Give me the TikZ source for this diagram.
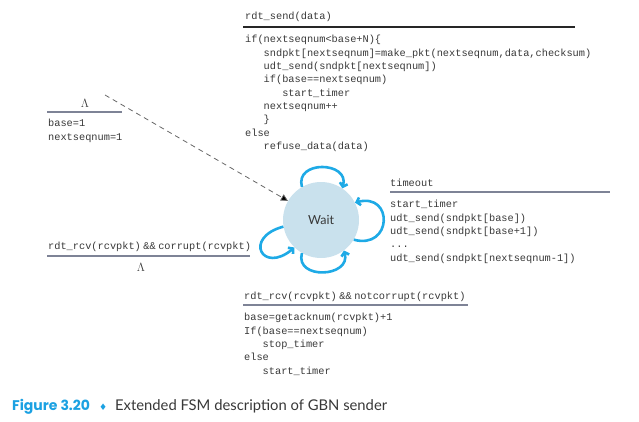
\documentclass[tikz,border=0pt]{standalone}
\usepackage{fontspec}
\setmainfont{Lato}
\setmonofont{Liberation Mono}
\newfontfamily\symfont{DejaVu Sans}
\newfontfamily\capfont{Poppins}
\usetikzlibrary{arrows.meta}
\definecolor{loopblue}{HTML}{1EAAE6}
\definecolor{statefill}{HTML}{C9E1ED}
\definecolor{rulegray}{HTML}{7E8396}
\definecolor{capblue}{HTML}{1BA1E2}
\definecolor{textgray}{HTML}{383838}
\newcommand{\ind}{\phantom{xxx}}
\newcommand{\andand}{\hspace{2.5pt}\&\&\hspace{2.5pt}}
\tikzset{
  code/.style={font=\ttfamily\fontsize{10.3}{13.35}\selectfont, text=textgray,
    inner sep=0pt, align=left, anchor=north west},
  guard/.style={draw=rulegray, line width=1.4pt},
  state/.style={circle, fill=statefill, minimum size=76pt, inner sep=0pt,
    font=\fontsize{12.5}{14}\selectfont, text=textgray},
  selfloop/.style={draw=loopblue, line width=2.6pt,
    -{Straight Barb[length=3.5pt,width=8pt]}},
  initarrow/.style={draw=black!60, line width=0.8pt, dash pattern=on 5pt off 4pt,
    -{Triangle[length=7pt,width=7pt,fill=black]}},
}
\begin{document}
\begin{tikzpicture}[x=1pt,y=-1pt]
  \useasboundingbox (0,0) rectangle (639,422);
  \def\LambdaSym{\fontsize{11.5}{12}\selectfont$\Lambda$}

  \node[state] (wait) at (321,220) {Wait};

  % send event
  \node[code] (sendlbl) at (245,12) {rdt\_send(data)};
  \coordinate (sendL) at (243,27);
  \coordinate (sendR) at (575,27);
  \draw[guard, draw=black!85] (sendL) -- (sendR);
  \node[code] (sendact) at (245,35) {if(nextseqnum<base+N)\{\\
    \ind sndpkt[nextseqnum]=make\_pkt(nextseqnum,data,checksum)\\
    \ind udt\_send(sndpkt[nextseqnum])\\
    \ind if(base==nextseqnum)\\
    \ind\ind start\_timer\\
    \ind nextseqnum++\\
    \ind \}\\
    else\\
    \ind refuse\_data(data)};

  % initial transition
  \node[inner sep=0pt, text=textgray] (initlbl) at (85,103) {\LambdaSym};
  \coordinate (initL) at (47,112);
  \coordinate (initR) at (122,112);
  \draw[guard] (initL) -- (initR);
  \node[code] (initact) at (48,119) {base=1\\nextseqnum=1};
  \coordinate (initstart) at (105,95);
  \draw[initarrow] (initstart) -- (wait);

  % corrupt ack
  \node[code] (corruptlbl) at (48,242) {rdt\_rcv(rcvpkt)\andand corrupt(rcvpkt)};
  \coordinate (corruptL) at (47,256);
  \coordinate (corruptR) at (250,256);
  \draw[guard] (corruptL) -- (corruptR);
  \node[inner sep=0pt, text=textgray] (corruptact) at (141,267) {\LambdaSym};

  % timeout
  \node[code] (timeoutlbl) at (390,179) {timeout};
  \coordinate (timeoutL) at (390,192);
  \coordinate (timeoutR) at (610,192);
  \draw[guard] (timeoutL) -- (timeoutR);
  \node[code] (timeoutact) at (390,200) {start\_timer\\
    udt\_send(sndpkt[base])\\
    udt\_send(sndpkt[base+1])\\
    ...\\
    udt\_send(sndpkt[nextseqnum-1])};

  % good ack
  \node[code] (acklbl) at (244,292) {rdt\_rcv(rcvpkt)\andand notcorrupt(rcvpkt)};
  \coordinate (ackL) at (243,305);
  \coordinate (ackR) at (468,305);
  \draw[guard] (ackL) -- (ackR);
  \node[code] (ackact) at (244,313) {base=getacknum(rcvpkt)+1\\
    If(base==nextseqnum)\\
    \ind stop\_timer\\
    else\\
    \ind start\_timer};

  % self loops
  \draw[selfloop] (wait.120) to[out=105, in=75, distance=28pt] (wait.56);
  \draw[selfloop] (wait.-31) to[out=-15, in=15, distance=40pt] (wait.27);
  \draw[selfloop] (wait.240) to[out=-105, in=-75, distance=28pt] (wait.-53);
  \draw[selfloop] (wait.190) to[out=195, in=220, distance=42pt] (wait.226);

  \node[anchor=base west, inner sep=0pt, font=\fontsize{14.8}{16}\selectfont,
    text=textgray] (caption) at (12,410)
    {\textcolor{capblue}{\capfont\bfseries\fontsize{14}{16}\selectfont Figure 3.20}\hspace{9pt}{\symfont\color{capblue}\fontsize{9}{10}\selectfont ♦}\hspace{8pt}Extended FSM description of GBN sender};
\end{tikzpicture}
\end{document}
